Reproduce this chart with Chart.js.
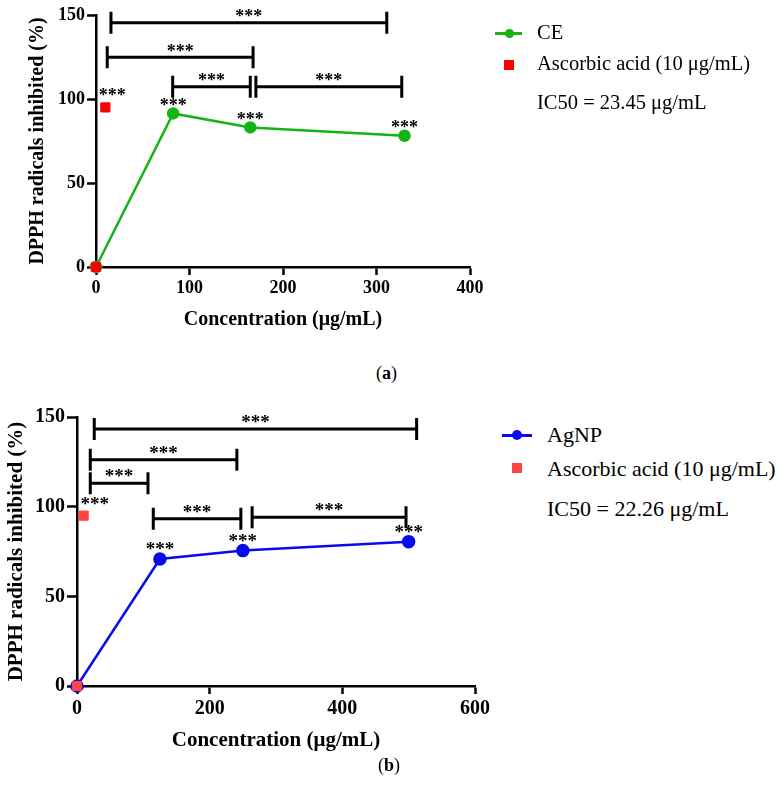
<!DOCTYPE html>
<html>
<head>
<meta charset="utf-8">
<script src="https://cdn.jsdelivr.net/npm/chart.js@4.4.0/dist/chart.umd.min.js"></script>
<style>
  body { margin: 0; background: #fff; font-family: "Liberation Serif", serif; }
  #wrap { position: relative; width: 781px; height: 799px; }
  canvas { position: absolute; left: 0; }
  .lg { position: absolute; white-space: nowrap; color: #000; line-height: 24px; }
  .ln { position: absolute; height: 2.5px; }
  .dot { position: absolute; border-radius: 50%; }
  .sq { position: absolute; width: 10px; height: 10px; }
  .cap { position: absolute; font-size: 18px; line-height: 24px; }
</style>
</head>
<body>
<div id="wrap">
  <canvas id="chartA" width="500" height="340" style="top:0"></canvas>
  <canvas id="chartB" width="500" height="365" style="top:395px"></canvas>

  <!-- legend (a) -->
  <div class="ln" style="left:495px;top:32px;width:27px;background:#14b414"></div>
  <div class="dot" style="left:505px;top:29px;width:9px;height:9px;background:#14b414"></div>
  <div class="lg" style="left:537px;top:20px;font-size:20.5px">CE</div>
  <div class="sq" style="left:504px;top:60px;background:#ff0000"></div>
  <div class="lg" style="left:537px;top:51px;font-size:20.5px">Ascorbic acid (10 μg/mL)</div>
  <div class="lg" style="left:537px;top:90px;font-size:20.5px">IC50 = 23.45 μg/mL</div>

  <!-- legend (b) -->
  <div class="ln" style="left:502px;top:434px;width:30px;background:#0a0af0"></div>
  <div class="dot" style="left:511.5px;top:430px;width:10px;height:10px;background:#0a0af0"></div>
  <div class="lg" style="left:547px;top:423px;font-size:22px">AgNP</div>
  <div class="sq" style="left:512px;top:463px;background:#ff4444"></div>
  <div class="lg" style="left:547px;top:457px;font-size:22px">Ascorbic acid (10 μg/mL)</div>
  <div class="lg" style="left:547px;top:497px;font-size:22px">IC50 = 22.26 μg/mL</div>

  <div class="cap" style="left:376px;top:361px">(<b>a</b>)</div>
  <div class="cap" style="left:378px;top:753px">(<b>b</b>)</div>
</div>
<script>
// Data (a)
const concA = [0, 82.5, 165, 330];
const inhibA = [0, 91.4, 83.1, 78.1];
const sigA = ["", "***", "***", "***"];
const ascConcA = [0, 10];
const ascInhibA = [0, 95];
const ascSigA = ["", "***"];
const brStartA = [16, 12, 82, 171];
const brEndA = [311, 168, 165, 327];
const brLevelA = [145.4, 124.8, 107.3, 107.3];

// Data (b)
const concB = [0, 125, 250, 500];
const inhibB = [0, 70.8, 75.5, 80.5];
const sigB = ["", "***", "***", "***"];
const ascConcB = [0, 10];
const ascInhibB = [0, 95];
const ascSigB = ["", "***"];
const brStartB = [26, 20, 20, 115, 264];
const brEndB = [512, 241, 107, 247, 496];
const brLevelB = [143.3, 126.2, 113.1, 93.2, 94.1];

const serif = "'Liberation Serif', 'Times New Roman', serif";

// brackets + significance stars
const bracketPlugin = {
  id: "brackets",
  afterDatasetsDraw(chart, args, o) {
    const { ctx, scales: { x, y } } = chart;
    ctx.save();
    ctx.strokeStyle = "#000";
    ctx.fillStyle = "#000";
    ctx.lineWidth = 3;
    ctx.font = "bold " + o.starSize + "px " + serif;
    ctx.textAlign = "center";
    ctx.textBaseline = "alphabetic";
    const lift = o.starSize * 0.53;
    o.starts.forEach((s, i) => {
      const x1 = x.getPixelForValue(s);
      const x2 = x.getPixelForValue(o.ends[i]);
      const yy = y.getPixelForValue(o.levels[i]);
      ctx.beginPath();
      ctx.moveTo(x1, yy); ctx.lineTo(x2, yy);
      ctx.moveTo(x1, yy - o.cap); ctx.lineTo(x1, yy + o.cap);
      ctx.moveTo(x2, yy - o.cap); ctx.lineTo(x2, yy + o.cap);
      ctx.stroke();
      ctx.fillText("***", (x1 + x2) / 2, yy - o.gap + lift);
    });
    chart.data.datasets.forEach((ds, di) => {
      const meta = chart.getDatasetMeta(di);
      meta.data.forEach((pt, i) => {
        if (ds.sig && ds.sig[i]) {
          ctx.fillText(ds.sig[i], pt.x + (ds.sigDx || 0), pt.y - ds.sigDy + lift);
        }
      });
    });
    ctx.restore();
  }
};

function makeChart(id, cfg) {
  const tickFont = { family: serif, size: cfg.tickSize, weight: "bold" };
  const titleFont = { family: serif, size: cfg.titleSize, weight: "bold" };
  return new Chart(document.getElementById(id), {
    type: "scatter",
    data: {
      datasets: [
        {
          data: cfg.conc.map((c, i) => ({ x: c, y: cfg.inhib[i] })),
          showLine: true,
          borderColor: cfg.color,
          backgroundColor: cfg.color,
          borderWidth: 2.5,
          pointRadius: cfg.pointR,
          pointHoverRadius: cfg.pointR,
          tension: 0,
          clip: false,
          order: 2,
          sig: cfg.sig,
          sigDy: cfg.pointLift,
        },
        {
          data: cfg.ascConc.map((c, i) => ({ x: c, y: cfg.ascInhib[i] })),
          showLine: false,
          pointStyle: "rect",
          pointRadius: 6.5,
          pointBorderWidth: 1,
          borderColor: cfg.ascColor,
          backgroundColor: cfg.ascColor,
          clip: false,
          order: 1,
          sig: cfg.ascSig,
          sigDx: cfg.ascDx,
          sigDy: 16,
        },
      ],
    },
    options: {
      responsive: false,
      animation: false,
      layout: { padding: cfg.pad },
      plugins: {
        legend: { display: false },
        tooltip: { enabled: false },
        brackets: {
          starts: cfg.brStart, ends: cfg.brEnd, levels: cfg.brLevel,
          cap: 11, gap: cfg.brGap, starSize: cfg.starSize,
        },
      },
      scales: {
        x: {
          type: "linear",
          min: 0, max: cfg.xMax,
          ticks: { stepSize: cfg.xStep, color: "#000", font: tickFont, padding: 3 },
          grid: { drawOnChartArea: false, drawTicks: true, tickLength: 8, tickWidth: 2.5, color: "#000" },
          border: { display: true, color: "#000", width: 2.5 },
          title: {
            display: true, text: "Concentration (μg/mL)", color: "#000", font: titleFont,
            padding: { top: 0, bottom: cfg.xTitlePad },
          },
          afterFit: (s) => { s.height = cfg.xH; },
        },
        y: {
          min: 0, max: 150,
          ticks: { stepSize: 50, color: "#000", font: tickFont, padding: 2 },
          grid: { drawOnChartArea: false, drawTicks: true, tickLength: cfg.yTick, tickWidth: 2.5, color: "#000" },
          border: { display: true, color: "#000", width: 2.5 },
          title: {
            display: true, text: "DPPH radicals inhibited (%)", color: "#000", font: titleFont,
            padding: { top: cfg.yTitlePad, bottom: 0 },
          },
          afterFit: (s) => { s.width = cfg.yW; },
        },
      },
    },
    plugins: [bracketPlugin],
  });
}

makeChart("chartA", {
  conc: concA, inhib: inhibA, sig: sigA,
  ascConc: ascConcA, ascInhib: ascInhibA, ascSig: ascSigA, ascDx: 7,
  brStart: brStartA, brEnd: brEndA, brLevel: brLevelA, brGap: 10,
  color: "#14b414", ascColor: "#ff0000", pointR: 5, pointLift: 12,
  xMax: 400, xStep: 100, tickSize: 18, titleSize: 20, starSize: 18,
  pad: { top: 15, right: 30, left: 0, bottom: 0 },
  xH: 73, yW: 96, yTick: 9, xTitlePad: 8, yTitlePad: 26,
});

makeChart("chartB", {
  conc: concB, inhib: inhibB, sig: sigB,
  ascConc: ascConcB, ascInhib: ascInhibB, ascSig: ascSigB, ascDx: 11,
  brStart: brStartB, brEnd: brEndB, brLevel: brLevelB, brGap: 11,
  color: "#0a0af0", ascColor: "#ff4444", pointR: 5.5, pointLift: 14,
  xMax: 600, xStep: 200, tickSize: 20, titleSize: 21, starSize: 19,
  pad: { top: 22, right: 25, left: 0, bottom: 0 },
  xH: 74, yW: 77, yTick: 10, xTitlePad: 7, yTitlePad: 4,
});
</script>
</body>
</html>
